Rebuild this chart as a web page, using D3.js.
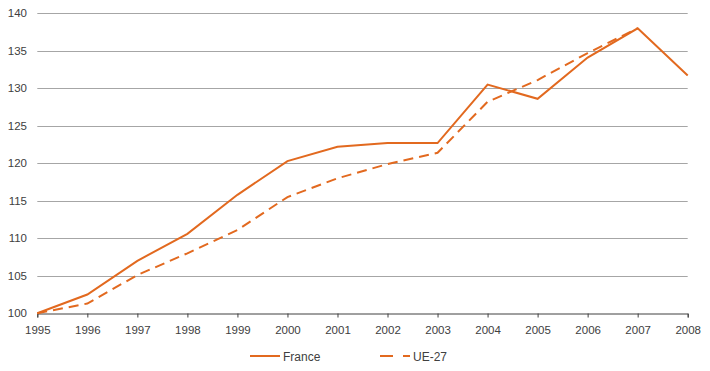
<!DOCTYPE html>
<html>
<head>
<meta charset="utf-8">
<script src="https://cdn.jsdelivr.net/npm/d3@7"></script>
<style>
  body { margin: 0; background: #fff; }
  text { font-family: "Liberation Sans", Arial, sans-serif; }
</style>
</head>
<body>
<div id="chart"></div>
<script>
const years = [1995, 1996, 1997, 1998, 1999, 2000, 2001, 2002, 2003, 2004, 2005, 2006, 2007, 2008]
const france = [100, 102.5, 107.0, 110.6, 115.8, 120.3, 122.2, 122.7, 122.7, 130.5, 128.6, 134.1, 138.0, 131.7]
const ue27 = [100, 101.3, 105.1, 108.0, 111.1, 115.5, 118.0, 119.9, 121.4, 128.2, 131.1, 134.7, 138.0, null]
const yTicks = [100, 105, 110, 115, 120, 125, 130, 135, 140]
const seriesNames = ['France', 'UE-27']

const width = 710,
      height = 371
const orange = '#e2691f'

const svg = d3.select('#chart')
  .append('svg')
  .attr('width', width)
  .attr('height', height)

const x = d3.scaleLinear()
  .domain([1995, 2008])
  .range([37.3, 687.7])

const y = d3.scaleLinear()
  .domain([100, 140])
  .range([313.3, 13.3])

// horizontal gridlines
svg.append('g')
  .selectAll('line')
  .data(yTicks.filter(d => d > 100))
  .enter()
  .append('line')
  .attr('x1', x(1995))
  .attr('x2', x(2008))
  .attr('y1', d => Math.round(y(d)) + 0.5)
  .attr('y2', d => Math.round(y(d)) + 0.5)
  .attr('stroke', '#a6a6a6')
  .attr('stroke-width', 1)

// y labels
svg.append('g')
  .selectAll('text')
  .data(yTicks)
  .enter()
  .append('text')
  .attr('x', 27)
  .attr('y', d => y(d) + 4)
  .attr('text-anchor', 'end')
  .attr('font-size', 11.5)
  .attr('fill', '#404040')
  .text(d => d)

// x axis
const xAxis = d3.axisBottom(x)
  .tickValues(years)
  .tickFormat(d3.format('d'))
  .tickSize(4)

const gx = svg.append('g')
  .attr('transform', 'translate(0,' + (Math.round(y(100)) + 0.5) + ')')
  .call(xAxis)
gx.select('.domain').attr('stroke', '#404040')
gx.selectAll('.tick line').attr('stroke', '#404040')
gx.selectAll('.tick text')
  .attr('font-size', 11.5)
  .attr('fill', '#404040')
  .attr('font-family', '"Liberation Sans", Arial, sans-serif')
  .attr('y', 10)
  .attr('dy', '0.9em')

const line = d3.line()
  .defined(d => d[1] != null)
  .x(d => x(d[0]))
  .y(d => y(d[1]))

svg.append('path')
  .datum(years.map((yr, i) => [yr, ue27[i]]))
  .attr('d', line)
  .attr('fill', 'none')
  .attr('stroke', orange)
  .attr('stroke-width', 2)
  .attr('stroke-dasharray', '10,6')

svg.append('path')
  .datum(years.map((yr, i) => [yr, france[i]]))
  .attr('d', line)
  .attr('fill', 'none')
  .attr('stroke', orange)
  .attr('stroke-width', 2)

// legend
const legend = svg.append('g')
const legendX = [250, 380]
seriesNames.forEach(function(name, i) {
  legend.append('line')
    .attr('x1', legendX[i])
    .attr('x2', legendX[i] + 30)
    .attr('y1', 356)
    .attr('y2', 356)
    .attr('stroke', orange)
    .attr('stroke-width', 2)
    .attr('stroke-dasharray', i === 1 ? '13,10' : null)
  legend.append('text')
    .attr('x', legendX[i] + 33)
    .attr('y', 361)
    .attr('font-size', 12)
    .attr('fill', '#404040')
    .text(name)
})
</script>
</body>
</html>
